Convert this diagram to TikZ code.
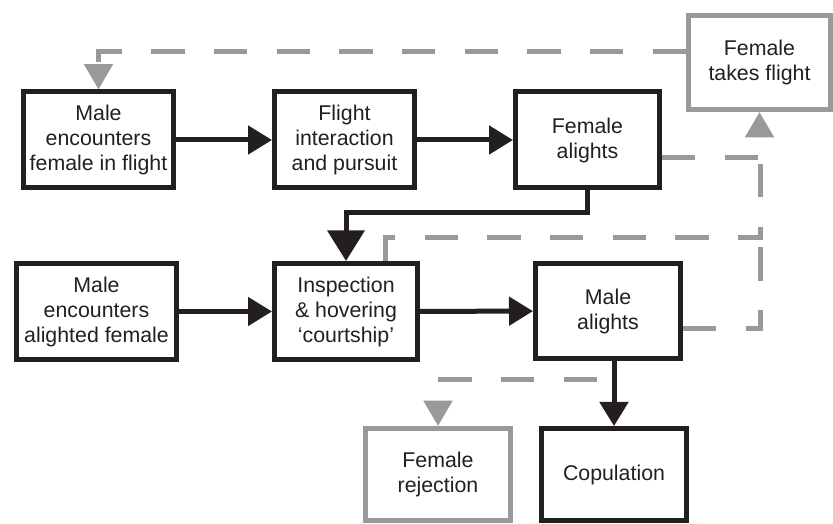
\documentclass[tikz,border=0pt]{standalone}
\usepackage{fontspec}
\setmainfont{Liberation Sans}
\usetikzlibrary{arrows.meta,positioning}
\definecolor{inkblack}{RGB}{35,31,32}
\definecolor{fadegrey}{RGB}{153,153,156}
\tikzset{
  stage/.style={draw=inkblack, line width=3.75pt, align=center, inner sep=2pt,
    minimum width=109pt, minimum height=72pt,
    font=\fontsize{16}{18.75}\selectfont, text=inkblack},
  outcome/.style={stage, draw=fadegrey},
  flow/.style={draw=inkblack, line width=3.75pt, -{Triangle[length=18pt,width=21pt]}},
  flowbig/.style={flow, -{Triangle[length=23pt,width=27.5pt]}},
  breakoff/.style={draw=fadegrey, line width=3.75pt, dash pattern=on 25pt off 22pt},
  breakoffarr/.style={breakoff, -{Triangle[length=19pt,width=21pt]}},
}
\begin{document}
\begin{tikzpicture}[x=0.75pt,y=-0.75pt]
\useasboundingbox (0,0) rectangle (833,524);
% nodes
\node[stage, minimum width=112.5pt] (meetfly) at (98.5,140) {Male\\encounters\\female in flight};
\node[stage, minimum width=105pt, right=72pt of meetfly] (pursuit) {Flight\\interaction\\and pursuit};
\node[stage, minimum width=108pt, right=72pt of pursuit] (alightF) {Female\\alights};
\node[outcome, minimum width=106.5pt, minimum height=70.5pt] (takeoff) at (759.5,62.5) {Female\\takes flight};
\node[stage, minimum width=120pt] (meetsit) at (96.5,311.5) {Male\\encounters\\alighted female};
\node[stage, minimum width=107.25pt, right=69.75pt of meetsit] (inspect) {Inspection\\\& hovering\\‘courtship’};
\node[stage, minimum width=108.75pt, minimum height=71.25pt] (alightM) at (608,311) {Male\\alights};
\node[outcome, minimum width=108.75pt, minimum height=69pt] (reject) at (438,474.5) {Female\\rejection};
\node[stage, minimum width=108.75pt, minimum height=69pt] (copul) at (614,474.5) {Copulation};

% bends
\coordinate (topbend) at (97,52);
\coordinate (rise) at (760,158);
\coordinate (lift) at (385,238);
\coordinate (back) at (760,329);
\coordinate (fall) at (597,380);
\coordinate (drop) at (346,213);

% grey edges
\draw[breakoffarr] (takeoff.west |- topbend) -| (meetfly.north);
\draw[breakoffarr] (alightF.east |- rise) -| (takeoff.south);
\draw[breakoff] (inspect.north -| lift) |- (rise |- lift) -- (rise);
\draw[breakoff] (alightM.east |- back) -- (back) -- (rise |- lift);
\draw[breakoffarr] (fall) -| (reject.north);

% edges
\draw[flow] (meetfly) -- (pursuit);
\draw[flow] (pursuit) -- (alightF);
\draw[flowbig] (alightF.south) |- (drop) -- (inspect.north);
\draw[flow] (meetsit) -- (inspect);
\draw[flow] (inspect) -- (alightM);
\draw[flow] (alightM.south -| copul.north) -- (copul.north);
\end{tikzpicture}
\end{document}
